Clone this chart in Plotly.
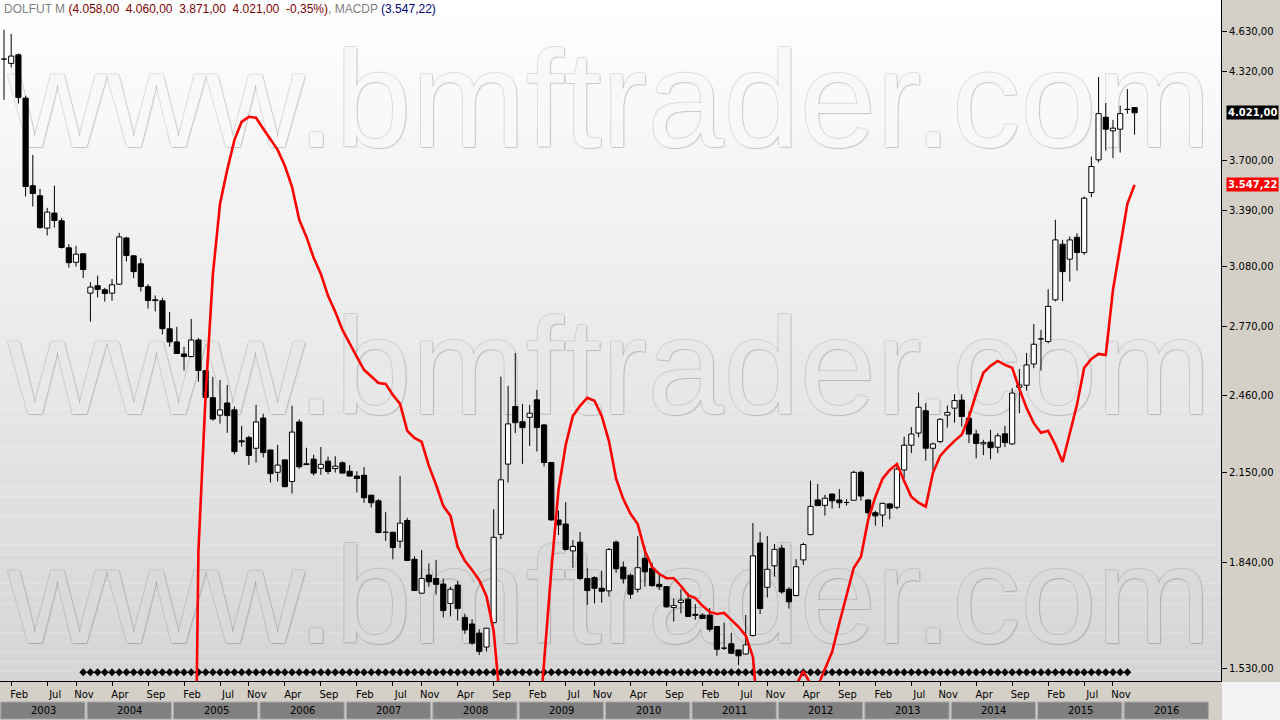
import math
import pandas as pd
import plotly.graph_objects as go

# ---------------- data ----------------
months = pd.date_range("2003-01-01", periods=158, freq="MS")

open_ = [4415, 4382, 4448, 4125, 3542, 3480, 3290, 3377, 3332, 3179,
         3100, 3146, 2938, 2976, 2955, 2938, 2984, 3234, 3135, 3092,
         2971, 2904, 2899, 2761, 2699, 2643, 2631, 2708, 2567, 2449,
         2376, 2427, 2398, 2272, 2285, 2243, 2364, 2236, 2151, 2198,
         2117, 2348, 2183, 2201, 2166, 2193, 2165, 2187, 2155, 2137,
         2140, 2067, 2047, 1938, 1938, 1908, 1978, 1849, 1743, 1799,
         1788, 1771, 1712, 1768, 1671, 1652, 1626, 1587, 1656, 1931,
         2182, 2412, 2349, 2367, 2440, 2336, 2188, 1980, 1966, 1876,
         1905, 1788, 1791, 1758, 1750, 1905, 1824, 1798, 1755, 1852,
         1820, 1770, 1763, 1700, 1715, 1725, 1680, 1678, 1678, 1645,
         1584, 1596, 1579, 1568, 1619, 1902, 1761, 1828, 1885, 1755,
         1736, 1847, 1930, 2050, 2031, 2071, 2050, 2041, 2049, 2151,
         2050, 2005, 1997, 2036, 2024, 2160, 2255, 2303, 2394, 2243,
         2269, 2376, 2405, 2439, 2363, 2299, 2260, 2267, 2247, 2300,
         2260, 2494, 2503, 2597, 2713, 2701, 2904, 3199, 3117, 3238,
         3153, 3500, 3705, 3990, 3897, 3908, 4045, 4058]

high = [4646, 4612, 4458, 4142, 3737, 3523, 3408, 3542, 3348, 3199,
        3190, 3150, 2995, 3029, 2965, 3011, 3263, 3240, 3137, 3122,
        2984, 2926, 2914, 2843, 2771, 2676, 2809, 2717, 2569, 2540,
        2526, 2504, 2412, 2332, 2292, 2419, 2382, 2238, 2256, 2200,
        2415, 2359, 2245, 2218, 2248, 2211, 2212, 2192, 2178, 2155,
        2171, 2068, 2053, 2007, 1939, 2137, 1987, 1859, 1879, 1836,
        1847, 1788, 1763, 1780, 1682, 1666, 1637, 1641, 2017, 2541,
        2500, 2647, 2423, 2419, 2483, 2340, 2190, 2012, 2042, 1912,
        1939, 1820, 1795, 1812, 1885, 1910, 1842, 1804, 1925, 1890,
        1838, 1799, 1765, 1727, 1755, 1743, 1710, 1683, 1698, 1646,
        1656, 1627, 1580, 1678, 1969, 1939, 1925, 1899, 1896, 1761,
        1849, 1903, 2120, 2108, 2068, 2074, 2089, 2053, 2157, 2157,
        2052, 2012, 2040, 2038, 2182, 2289, 2327, 2471, 2426, 2265,
        2363, 2416, 2465, 2464, 2391, 2316, 2276, 2316, 2303, 2332,
        2490, 2575, 2647, 2785, 2756, 2958, 3338, 3223, 3242, 3261,
        3476, 3726, 4279, 4090, 3972, 4072, 4190, 4060]

low = [4113, 4351, 4087, 3476, 3416, 3286, 3248, 3293, 3175, 3071,
       3077, 3016, 2796, 2916, 2895, 2899, 2980, 3104, 3016, 2946,
       2860, 2846, 2734, 2677, 2643, 2568, 2628, 2519, 2440, 2353,
       2341, 2304, 2220, 2249, 2179, 2188, 2207, 2113, 2117, 2096,
       2073, 2165, 2179, 2139, 2142, 2144, 2150, 2147, 2136, 2077,
       2040, 2023, 1935, 1909, 1849, 1885, 1844, 1750, 1741, 1763,
       1739, 1671, 1674, 1662, 1624, 1593, 1565, 1575, 1654, 1915,
       2113, 2303, 2183, 2252, 2230, 2173, 1978, 1929, 1877, 1822,
       1783, 1708, 1712, 1714, 1733, 1806, 1773, 1726, 1745, 1763,
       1763, 1753, 1700, 1659, 1683, 1672, 1664, 1666, 1630, 1563,
       1579, 1568, 1538, 1566, 1617, 1681, 1730, 1794, 1741, 1697,
       1733, 1831, 1928, 2028, 1995, 2019, 2021, 2030, 2047, 2047,
       1992, 1960, 1957, 1982, 2017, 2130, 2224, 2286, 2195, 2160,
       2263, 2325, 2345, 2329, 2263, 2204, 2216, 2200, 2224, 2247,
       2256, 2384, 2480, 2578, 2568, 2692, 2896, 2896, 2998, 3055,
       3140, 3472, 3688, 3765, 3716, 3752, 4015, 3871]

close = [4410, 4438, 4130, 3537, 3494, 3293, 3383, 3334, 3181, 3098,
         3144, 3061, 2969, 2957, 2936, 2981, 3240, 3137, 3050, 2972,
         2900, 2900, 2762, 2699, 2645, 2631, 2708, 2568, 2450, 2360,
         2398, 2374, 2230, 2268, 2215, 2348, 2226, 2146, 2178, 2098,
         2307, 2172, 2180, 2148, 2181, 2154, 2174, 2148, 2137, 2128,
         2058, 2040, 1937, 1936, 1887, 1969, 1845, 1751, 1788, 1778,
         1770, 1691, 1755, 1697, 1635, 1598, 1575, 1640, 1921, 2123,
         2340, 2345, 2325, 2384, 2325, 2188, 1980, 1963, 1881, 1891,
         1788, 1751, 1758, 1749, 1881, 1819, 1787, 1740, 1822, 1809,
         1766, 1763, 1702, 1706, 1722, 1674, 1677, 1668, 1637, 1581,
         1582, 1570, 1563, 1593, 1860, 1697, 1817, 1881, 1747, 1717,
         1825, 1897, 2027, 2030, 2056, 2047, 2040, 2040, 2151, 2064,
         2005, 1994, 2038, 2021, 2163, 2255, 2299, 2409, 2243, 2260,
         2359, 2387, 2437, 2370, 2299, 2262, 2265, 2245, 2292, 2265,
         2469, 2504, 2593, 2688, 2710, 2871, 3223, 3050, 3223, 3153,
         3466, 3662, 4015, 3908, 3915, 4015, 4050, 4021]

# MACDP indicator line, starting at month index 26 (Mar 2005)
macdp_start = 26
macdp = [700, 1876, 2461, 3033, 3432, 3641, 3836, 3958, 3993, 3986,
         3911, 3836, 3770, 3667, 3535, 3338, 3240, 3124, 3038, 2924,
         2844, 2756, 2690, 2630, 2571, 2544, 2513, 2509, 2461, 2423,
         2312, 2284, 2268, 2175, 2105, 2029, 1994, 1889, 1844, 1815,
         1783, 1734, 1632, 1420, 1100, 950, 950, 1050, 1320, 1547,
         1812, 2086, 2256, 2373, 2415, 2449, 2436, 2373, 2272, 2127,
         2053, 2001, 1966, 1876, 1824, 1802, 1789, 1789, 1765, 1737,
         1728, 1705, 1687, 1681, 1684, 1664, 1644, 1619, 1560, 1350,
         1100, 1000, 1050, 1250, 1485, 1522, 1488, 1482, 1525, 1574,
         1655, 1737, 1821, 1857, 1980, 2061, 2127, 2160, 2182, 2119,
         2061, 2040, 2026, 2149, 2213, 2244, 2272, 2296, 2368, 2466,
         2558, 2589, 2611, 2593, 2580, 2487, 2406, 2343, 2304, 2312,
         2256, 2190, 2308, 2419, 2580, 2620, 2643, 2638, 2955, 3185,
         3432, 3547.22]

# diamond marker row (signal dots) from Dec 2003 to Jan 2016
signal_first, signal_last = 11, 156
signal_level = 1519

# 4.010 tick is hidden behind the last-price label in the reference
price_ticks = [1530, 1840, 2150, 2460, 2770, 3080, 3390, 3700, 4320, 4630]
years = list(range(2003, 2017))
label_steps = [5, 4, 5, 5, 5]
header_vals = ["4.058,00", "4.060,00", "3.871,00", "4.021,00", "-0,35%"]

# ---------------- helpers ----------------
def br(v):
    s = f"{v:,.2f}"
    return s.replace(",", "X").replace(".", ",").replace("X", ".")

x = list(range(len(months)))
XMIN, XMAX = -0.555, 169.0
YMIN, YMAX = 1496, 4893
PLOT_W, PLOT_H = 1221, 681
BODY = 0.36  # half body width in months

def xpaper(m):
    return (m - XMIN) / (XMAX - XMIN)

tick_idx = []
i, k = 1, 0
while i < len(months):
    tick_idx.append(i)
    i += label_steps[k % len(label_steps)]
    k += 1
tick_txt = [months[j].strftime("%b") for j in tick_idx]

fig = go.Figure()

# watermark (drawn first, beneath the candles)
wm_vals = [4021, 2526, 1696]
wm_cols = ["#f8f8f8", "#e8e8e8", "#dadada"]
fig.add_trace(go.Scatter(
    x=[0.56, 0.56, 0.56], y=wm_vals, mode="text",
    text=["www.bmftrader.com"] * 3, textposition="middle right",
    textfont=dict(family="Liberation Sans", size=137, color=wm_cols,
                  shadow="1px 1px 1px rgba(0,0,0,0.17), -1px -1px 0px rgba(0,0,0,0.08), 1px -1px 0px rgba(0,0,0,0.05), -1px 1px 0px rgba(0,0,0,0.05)"),
    cliponaxis=False, hoverinfo="skip", showlegend=False))

# candlesticks: wicks then bodies
wx, wy = [], []
for j in x:
    wx += [j, j, None]
    wy += [low[j], high[j], None]
fig.add_trace(go.Scatter(x=wx, y=wy, mode="lines",
                         line=dict(color="#000000", width=1),
                         hoverinfo="skip", showlegend=False))

def body_path(idx):
    bx, by = [], []
    for j in idx:
        bx += [j - BODY, j + BODY, j + BODY, j - BODY, j - BODY, None]
        by += [open_[j], open_[j], close[j], close[j], open_[j], None]
    return bx, by

up = [j for j in x if close[j] >= open_[j]]
down = [j for j in x if close[j] < open_[j]]
for idx, fillc in [(up, "#ffffff"), (down, "#000000")]:
    bx, by = body_path(idx)
    fig.add_trace(go.Scatter(x=bx, y=by, mode="lines", fill="toself",
                             fillcolor=fillc, line=dict(color="#000000", width=1),
                             hoverinfo="skip", showlegend=False))

sig_x = list(range(signal_first, signal_last + 1))
fig.add_trace(go.Scatter(
    x=sig_x, y=[signal_level] * len(sig_x), mode="markers",
    marker=dict(symbol="diamond", size=6, color="#000000"),
    hoverinfo="skip", showlegend=False))

fig.add_trace(go.Scatter(
    x=list(range(macdp_start, macdp_start + len(macdp))), y=macdp,
    mode="lines", line=dict(color="#ff0000", width=2.6),
    name="MACDP", showlegend=False))

# background gradient for plot area
shapes = []
N = 70
for b in range(N):
    y0, y1 = b / N, (b + 1) / N
    g = int(round(213 + 42 * (y0 + y1) / 2))
    shapes.append(dict(type="rect", xref="paper", yref="paper", x0=0, x1=1,
                       y0=y0, y1=y1, fillcolor=f"rgb({g},{g},{g})",
                       line=dict(width=0), layer="below"))

# light corner under the price axis
shapes.append(dict(type="rect", xref="paper", yref="paper",
                   x0=1 + 1 / PLOT_W, x1=1 + 59 / PLOT_W,
                   y0=-39 / PLOT_H, y1=-1 / PLOT_H,
                   fillcolor="#f2f2f2", line=dict(width=0), layer="above"))

# year bar
annotations = []
yb0 = (PLOT_H - 719) / PLOT_H
yb1 = (PLOT_H - 702) / PLOT_H
for n, yr in enumerate(years):
    m0 = 12 * n + XMIN
    m1 = min(m0 + 12, 168.3)
    shapes.append(dict(type="rect", xref="paper", yref="paper",
                       x0=xpaper(m0) + 0.0006, x1=xpaper(m1) - 0.0012,
                       y0=yb0, y1=yb1, fillcolor="#808080",
                       line=dict(color="#a8a8a8", width=1), layer="above"))
    annotations.append(dict(text=str(yr), xref="paper", yref="paper",
                            x=(xpaper(m0) + xpaper(m1)) / 2, y=(yb0 + yb1) / 2,
                            showarrow=False, xanchor="center", yanchor="middle",
                            font=dict(family="DejaVu Sans", size=10, color="#000000")))

# header
red = "#800000"
gray = "#808080"
header = (f"<span style='color:{gray}'>DOLFUT M </span>"
          f"<span style='color:{red}'>(" + "  ".join(header_vals) + ")</span>"
          f"<span style='color:{gray}'>, MACDP </span>"
          f"<span style='color:#000080'>({br(macdp[-1])})</span>")
annotations.append(dict(text=header, xref="paper", yref="paper", x=2 / PLOT_W,
                        y=(PLOT_H - 9) / PLOT_H, xanchor="left", yanchor="middle",
                        showarrow=False,
                        font=dict(family="Liberation Sans", size=12, color=gray)))

# last value labels on the price axis
for val, bg in [(close[-1], "#000000"), (macdp[-1], "#ff0000")]:
    annotations.append(dict(text=f"<b>{br(val)}</b>", xref="paper", yref="y",
                            x=1, y=math.log10(val), xanchor="left", yanchor="middle",
                            xshift=5, showarrow=False, bgcolor=bg, borderpad=1,
                            font=dict(family="DejaVu Sans", size=10, color="#ffffff")))

fig.update_layout(
    width=1280, height=720,
    margin=dict(l=0, r=59, t=0, b=39, pad=0),
    paper_bgcolor="#d4d0c8", plot_bgcolor="#ffffff",
    showlegend=False,
    shapes=shapes, annotations=annotations,
    xaxis=dict(range=[XMIN, XMAX], tickmode="array", tickvals=tick_idx,
               ticktext=tick_txt, ticks="outside", ticklen=4, tickcolor="#000000",
               showline=True, linecolor="#000000", linewidth=1, showgrid=False,
               zeroline=False, automargin=False, ticklabelshift=8,
               tickfont=dict(family="DejaVu Sans", size=10, color="#000000")),
    yaxis=dict(type="log", side="right", range=[math.log10(YMIN), math.log10(YMAX)],
               tickmode="array", tickvals=price_ticks,
               ticktext=[br(v) for v in price_ticks], ticks="outside", ticklen=5,
               tickcolor="#000000", showline=True, linecolor="#000000", linewidth=1,
               showgrid=False, zeroline=False, automargin=False,
               tickfont=dict(family="DejaVu Sans", size=10, color="#000000")),
)

fig.write_html("out.html",
               config={"displayModeBar": False},
               post_script="document.body.style.margin='0px';"
                           "document.body.style.overflow='hidden';")
